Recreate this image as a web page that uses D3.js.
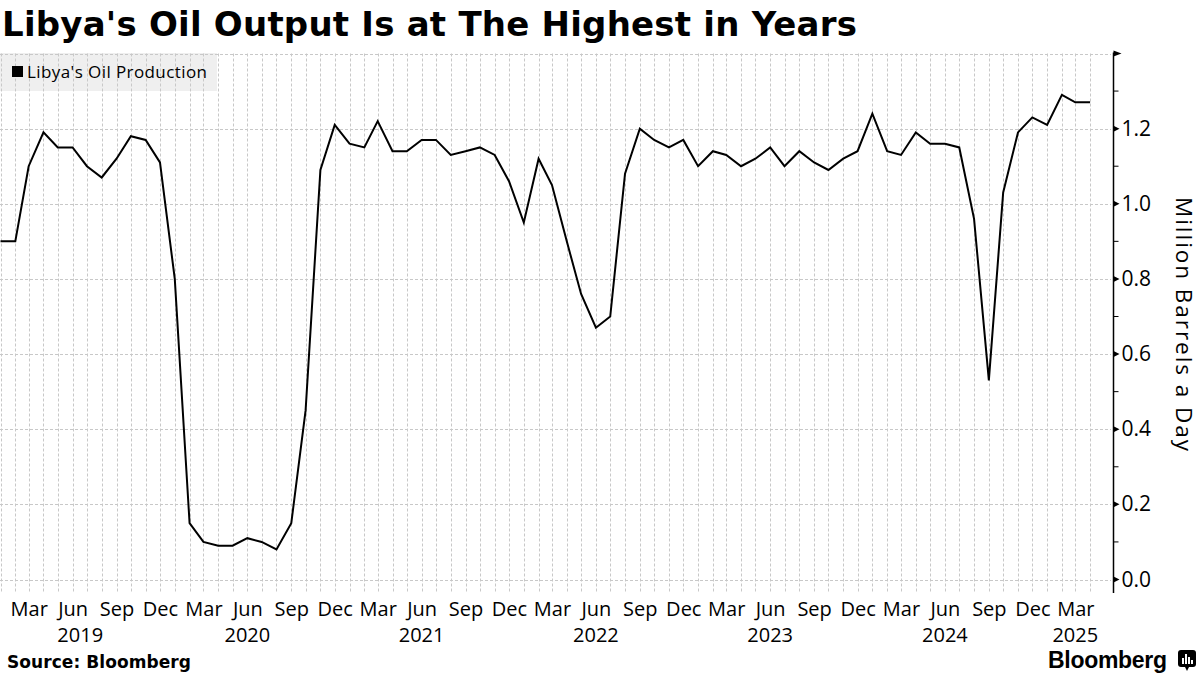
<!DOCTYPE html>
<html>
<head>
<meta charset="utf-8">
<script src="https://cdn.jsdelivr.net/npm/d3@7"></script>
<style>
  html, body { margin: 0; padding: 0; background: #fff; }
  svg { display: block; }
</style>
</head>
<body>
<svg id="chart" width="1200" height="675"></svg>
<script>
// ---------- data ----------
const startMonth = "2019-01";
const production = [
  // 2019
  0.90, 0.90, 1.10, 1.19, 1.15, 1.15, 1.10, 1.07, 1.12, 1.18, 1.17, 1.11,
  // 2020
  0.80, 0.15, 0.10, 0.09, 0.09, 0.11, 0.10, 0.08, 0.15, 0.45, 1.09, 1.21,
  // 2021
  1.16, 1.15, 1.22, 1.14, 1.14, 1.17, 1.17, 1.13, 1.14, 1.15, 1.13, 1.06,
  // 2022
  0.95, 1.12, 1.05, 0.90, 0.76, 0.67, 0.70, 1.08, 1.20, 1.17, 1.15, 1.17,
  // 2023
  1.10, 1.14, 1.13, 1.10, 1.12, 1.15, 1.10, 1.14, 1.11, 1.09, 1.12, 1.14,
  // 2024
  1.24, 1.14, 1.13, 1.19, 1.16, 1.16, 1.15, 0.96, 0.53, 1.03, 1.19, 1.23,
  // 2025
  1.21, 1.29, 1.27, 1.27
];
const monthTickLabels = ["Mar", "Jun", "Sep", "Dec"];
const yearLabels = ["2019", "2020", "2021", "2022", "2023", "2024", "2025"];
const yearLabelDates = ["2019-06-17", "2020-06-01", "2021-06-01", "2022-06-01", "2023-06-01", "2024-06-01", "2025-03-01"];
const yTicks = [0.0, 0.2, 0.4, 0.6, 0.8, 1.0, 1.2];
const yMinorTicks = [0.1, 0.3, 0.5, 0.7, 0.9, 1.1, 1.3];
const titleText = "Libya's Oil Output Is at The Highest in Years";
const seriesName = "Libya's Oil Production";
const yAxisTitle = "Million Barrels a Day";
const sourceText = "Source: Bloomberg";

// ---------- setup ----------
const svg = d3.select("#chart");
const parseMonth = d3.timeParse("%Y-%m");
const parseDay = d3.timeParse("%Y-%m-%d");
const start = parseMonth(startMonth);
const dates = production.map((_, i) => d3.timeMonth.offset(start, i));
const data = dates.map((d, i) => ({ date: d, value: production[i] }));

const plotLeft = 0.5, plotRight = 1113, plotTop = 53.5, plotBottom = 593;
const x = d3.scaleTime()
  .domain([start, parseDay("2025-05-19")])
  .range([plotLeft, plotRight]);
const y = d3.scaleLinear()
  .domain([0, 1.4])
  .range([579.5, plotTop]);

const tickFont = "'Open Sans', 'Noto Sans', sans-serif";

function fitWidth(sel, target) {
  const node = sel.node();
  const len = node.getComputedTextLength();
  const n = node.textContent.length;
  if (n > 1) sel.attr("letter-spacing", (target - len) / (n - 1));
}

// title
const title = svg.append("text")
  .attr("x", 2).attr("y", 36)
  .attr("font-family", "'DejaVu Sans', Verdana, sans-serif")
  .attr("font-weight", "bold")
  .attr("font-size", 34)
  .attr("fill", "#000")
  .text(titleText);
fitWidth(title, 855);

// legend background (behind grid)
svg.append("rect")
  .attr("x", 0).attr("y", 53).attr("width", 217).attr("height", 38)
  .attr("fill", "#efefef");

// grid
const grid = svg.append("g").attr("class", "grid");
grid.selectAll("line.v")
  .data(dates)
  .join("line")
  .attr("class", "v")
  .attr("x1", d => Math.round(x(d)) + 0.5)
  .attr("x2", d => Math.round(x(d)) + 0.5)
  .attr("y1", plotTop).attr("y2", plotBottom)
  .attr("stroke", "#c8c8c8")
  .attr("stroke-width", 1)
  .attr("stroke-dasharray", "3,2");
grid.selectAll("line.h")
  .data(yTicks.concat([1.4]))
  .join("line")
  .attr("class", "h")
  .attr("x1", 0).attr("x2", plotRight - 2)
  .attr("y1", d => Math.round(y(d)) + 0.5)
  .attr("y2", d => Math.round(y(d)) + 0.5)
  .attr("stroke", "#c8c8c8")
  .attr("stroke-width", 1)
  .attr("stroke-dasharray", "3,2");

// legend content
svg.append("rect")
  .attr("x", 12).attr("y", 66).attr("width", 11).attr("height", 11)
  .attr("fill", "#000");
const legText = svg.append("text")
  .attr("x", 27).attr("y", 78)
  .attr("font-family", tickFont)
  .attr("font-size", 17)
  .attr("fill", "#000")
  .text(seriesName);
fitWidth(legText, 180);

// line
const line = d3.line()
  .x(d => x(d.date))
  .y(d => y(d.value));
svg.append("path")
  .datum(data)
  .attr("d", line)
  .attr("fill", "none")
  .attr("stroke", "#000")
  .attr("stroke-width", 2)
  .attr("stroke-linejoin", "miter");

// y axis
const axisX = plotRight + 0.5;
const yAxis = svg.append("g");
yAxis.append("line")
  .attr("x1", axisX).attr("x2", axisX)
  .attr("y1", plotTop - 1).attr("y2", plotBottom)
  .attr("stroke", "#000").attr("stroke-width", 1.5);
// top flag
yAxis.append("path")
  .attr("d", `M${axisX},${plotTop - 3}L${axisX + 8},${plotTop}L${axisX},${plotTop + 3}Z`)
  .attr("fill", "#000");
// major tick markers
yAxis.selectAll("path.maj")
  .data(yTicks)
  .join("path")
  .attr("class", "maj")
  .attr("d", d => {
    const yy = y(d);
    return `M${axisX},${yy - 3}L${axisX + 6},${yy}L${axisX},${yy + 3}Z`;
  })
  .attr("fill", "#000");
// minor ticks
yAxis.selectAll("line.min")
  .data(yMinorTicks)
  .join("line")
  .attr("class", "min")
  .attr("x1", axisX).attr("x2", axisX + 5)
  .attr("y1", d => y(d)).attr("y2", d => y(d))
  .attr("stroke", "#000").attr("stroke-width", 1);
// labels
yAxis.selectAll("text")
  .data(yTicks)
  .join("text")
  .attr("x", axisX + 8)
  .attr("y", d => y(d) + 7)
  .attr("font-family", tickFont)
  .attr("font-size", 21)
  .attr("fill", "#000")
  .text(d => d3.format(".1f")(d));

// y axis title
const yTitle = svg.append("text")
  .attr("transform", "translate(1176,325) rotate(90)")
  .attr("text-anchor", "middle")
  .attr("font-family", tickFont)
  .attr("font-size", 22.5)
  .attr("fill", "#000")
  .text(yAxisTitle);
fitWidth(yTitle, 254);

// x axis month labels
const monthFmt = d3.timeFormat("%b");
const tickDates = dates.filter(d => monthTickLabels.includes(monthFmt(d)));
const xAxis = d3.axisBottom(x)
  .tickValues(tickDates)
  .tickFormat(monthFmt)
  .tickSize(0)
  .tickPadding(0);
const gx = svg.append("g")
  .attr("transform", "translate(0,601)")
  .call(xAxis);
gx.select(".domain").remove();
gx.selectAll("text")
  .attr("font-family", tickFont)
  .attr("font-size", 20)
  .attr("fill", "#000")
  .attr("dy", "0.75em");

// year labels
svg.append("g").selectAll("text")
  .data(yearLabels)
  .join("text")
  .attr("x", (d, i) => x(parseDay(yearLabelDates[i])))
  .attr("y", 642)
  .attr("text-anchor", "middle")
  .attr("font-family", tickFont)
  .attr("font-size", 20)
  .attr("fill", "#000")
  .text(d => d);

// source
const src = svg.append("text")
  .attr("x", 7).attr("y", 668)
  .attr("font-family", "'DejaVu Sans', Verdana, sans-serif")
  .attr("font-weight", "bold")
  .attr("font-size", 17)
  .attr("fill", "#000")
  .text(sourceText);
fitWidth(src, 184);

// Bloomberg logo
const bb = svg.append("text")
  .attr("x", 1048).attr("y", 668)
  .attr("font-family", "'Liberation Sans', Arial, sans-serif")
  .attr("font-weight", "bold")
  .attr("font-size", 23)
  .attr("fill", "#000")
  .text("Bloomberg");
fitWidth(bb, 119);
const logo = svg.append("g").attr("transform", "translate(1178,650)");
logo.append("rect").attr("x", 0).attr("y", 0).attr("width", 18).attr("height", 17).attr("rx", 3).attr("fill", "#000");
logo.append("path").attr("d", "M7,17L9,21L11,17Z").attr("fill", "#000");
[[4, 8, 2, 6], [7, 4, 2, 10], [10, 7, 2, 7], [13, 10, 2, 4]].forEach(b => {
  logo.append("rect").attr("x", b[0]).attr("y", b[1]).attr("width", b[2]).attr("height", b[3]).attr("fill", "#fff");
});
</script>
</body>
</html>
